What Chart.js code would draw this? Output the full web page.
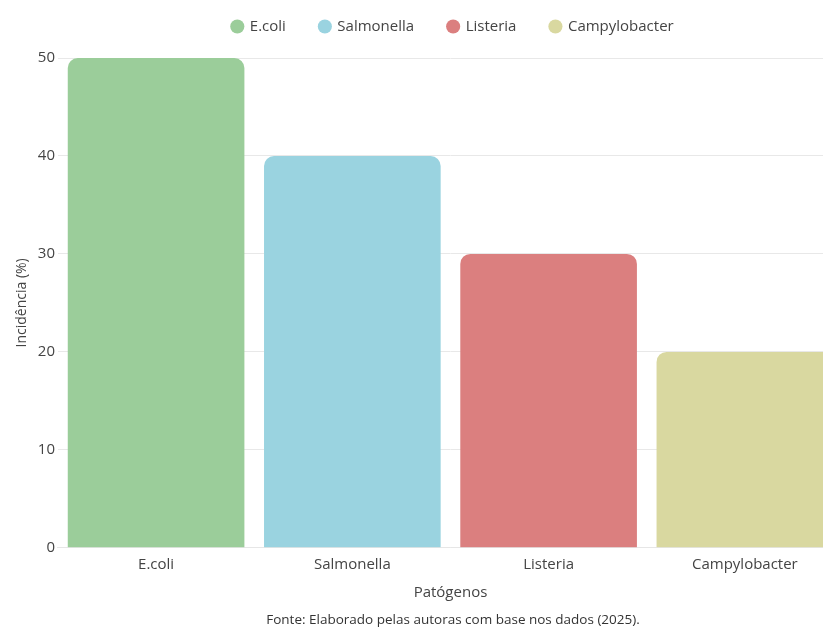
<!DOCTYPE html>
<html>
<head>
<meta charset="utf-8">
<script src="https://cdn.jsdelivr.net/npm/chart.js@4.4.1/dist/chart.umd.min.js"></script>
<style>
  body { margin: 0; overflow: hidden; background: #fff; }
  #wrap { width: 892px; height: 628px; }
</style>
</head>
<body>
<div id="wrap"><canvas id="grafico"></canvas></div>
<script>
// Dados de incidência por patógeno
const patogenos = ['E.coli', 'Salmonella', 'Listeria', 'Campylobacter'];
const incidencia = [50, 40, 30, 20];
const cores = ['#9bcd9a', '#9ad3e0', '#db7f7f', '#d9d8a0'];
const ticksY = [0, 10, 20, 30, 40, 50];

Chart.defaults.font.family = '"Open Sans", sans-serif';
Chart.defaults.color = '#444';

// um dataset por patógeno, para ter um item de legenda cada
const datasets = patogenos.map((nome, i) => ({
    label: nome,
    data: patogenos.map((_, j) => (i === j ? incidencia[i] : null)),
    backgroundColor: cores[i],
    borderRadius: 10,
    borderSkipped: 'start'
}));

// dá mais espaço abaixo da legenda
const ajusteLegenda = {
    id: 'ajusteLegenda',
    beforeInit(chart) {
        const fitOriginal = chart.legend.fit;
        chart.legend.fit = function () {
            fitOriginal.bind(chart.legend)();
            this.height += 14;
        };
    }
};

const ctx = document.getElementById('grafico').getContext('2d');
new Chart(ctx, {
    type: 'bar',
    data: { labels: patogenos, datasets: datasets },
    plugins: [ajusteLegenda],
    options: {
        responsive: true,
        maintainAspectRatio: false,
        animation: false,
        skipNull: true,
        categoryPercentage: 0.9,
        barPercentage: 1,
        layout: { padding: { top: -15, left: 14 } },
        plugins: {
            legend: {
                position: 'top',
                labels: {
                    usePointStyle: true,
                    pointStyle: 'circle',
                    boxWidth: 10,
                    boxHeight: 10,
                    padding: 34,
                    font: { size: 15 },
                    color: '#444'
                }
            },
            title: {
                display: true,
                position: 'bottom',
                text: 'Fonte: Elaborado pelas autoras com base nos dados (2025).',
                font: { size: 13.5, weight: 'normal' },
                color: '#333',
                padding: { top: 5, bottom: 0 }
            },
            tooltip: { enabled: false }
        },
        scales: {
            x: {
                grid: { display: false },
                border: { color: '#e6e6e6' },
                ticks: { font: { size: 15 }, color: '#444', padding: 0 },
                title: { display: true, text: 'Patógenos', font: { size: 15 }, color: '#444', padding: { top: 10, bottom: 5 } }
            },
            y: {
                min: 0,
                max: 50,
                afterBuildTicks: s => { s.ticks = ticksY.map(v => ({ value: v })); },
                grid: { color: '#e8e8e8', drawTicks: false },
                border: { display: false },
                ticks: { font: { size: 15 }, color: '#444', padding: 3 },
                title: { display: true, text: 'Incidência (%)', font: { size: 14 }, color: '#444', padding: { top: 0, bottom: 4 } }
            },
            // eixo vazio à direita só para reservar espaço
            y2: {
                position: 'right',
                display: true,
                grid: { display: false },
                border: { display: false },
                ticks: { display: false },
                afterFit: s => { s.width = 49; }
            }
        }
    }
});
</script>
</body>
</html>
